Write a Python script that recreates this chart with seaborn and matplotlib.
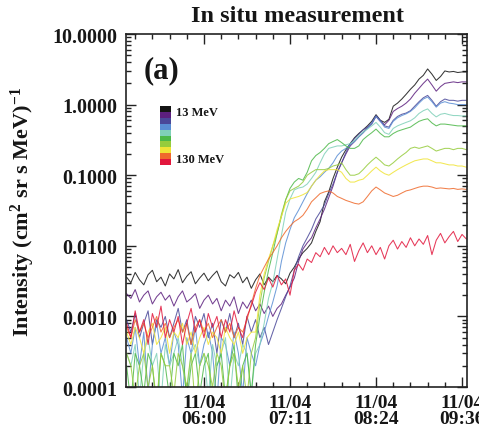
import numpy as np
import pandas as pd
import matplotlib
matplotlib.use("Agg")
import matplotlib.pyplot as plt
from matplotlib.patches import Rectangle
from matplotlib.ticker import FixedLocator, MultipleLocator, LogLocator, FuncFormatter, NullFormatter
import seaborn as sns

# ---------------- data ----------------
time_hr = np.round(np.arange(5.10, 9.051, 0.05), 2)   # 80 samples, tick 6,7,8,9 -> labels below

tick_pos = [6, 7, 8, 9]
tick_labels = ["11/04\n06:00", "11/04\n07:11", "11/04\n08:24", "11/04\n09:36"]

channels = ["13 MeV", "ch2", "ch3", "ch4", "ch5", "ch6", "ch7", "ch8", "ch9", "130 MeV"]
colors = ["#141414", "#5c1f7e", "#4a4899", "#5a8ed4", "#7fd0b8",
          "#4cb848", "#96cc3c", "#f0e436", "#ef6a2c", "#e2163c"]

ch1 = [0.0036, 0.0030, 0.0042, 0.0033, 0.0028, 0.0039, 0.0045, 0.0031, 0.0036, 0.0027,
       0.0040, 0.0034, 0.0046, 0.0030, 0.0037, 0.0043, 0.0029, 0.0035, 0.0041, 0.0032,
       0.0038, 0.0044, 0.0031, 0.0027, 0.0039, 0.0035, 0.0042, 0.0030, 0.0036, 0.0025,
       0.0033, 0.0040, 0.0028, 0.0036, 0.0031, 0.0038, 0.0034, 0.0029, 0.0041, 0.0050,
       0.0065, 0.0080, 0.0092, 0.0110, 0.0160, 0.0220, 0.0420, 0.0580, 0.0900, 0.1300,
       0.1800, 0.2300, 0.2800, 0.3400, 0.3900, 0.4400, 0.5000, 0.5800, 0.7200, 0.6000,
       0.5600, 0.6200, 0.9500, 1.0500, 1.2000, 1.4000, 1.6500, 1.9000, 2.3000, 2.6000,
       3.2000, 2.7000, 2.2000, 2.5000, 3.0000, 2.9000, 2.9500, 2.8500, 2.9000, 2.9000]
ch2 = [0.0021, 0.0018, 0.0024, 0.0016, 0.0020, 0.0023, 0.0015, 0.0019, 0.0022, 0.0017,
       0.0020, 0.0014, 0.0019, 0.0023, 0.0016, 0.0018, 0.0021, 0.0013, 0.0017, 0.0020,
       0.0015, 0.0018, 0.0012, 0.0017, 0.0014, 0.0019, 0.0011, 0.0016, 0.0013, 0.0017,
       0.0012, 0.0015, 0.0011, 0.0014, 0.0010, 0.0013, 0.0015, 0.0020, 0.0026, 0.0035,
       0.0060, 0.0090, 0.0110, 0.0130, 0.0180, 0.0240, 0.0330, 0.0480, 0.0700, 0.1100,
       0.1500, 0.2000, 0.2600, 0.3000, 0.3500, 0.4000, 0.4700, 0.5300, 0.6800, 0.5800,
       0.5200, 0.6000, 0.8000, 0.8800, 0.9500, 1.0500, 1.2000, 1.4500, 1.7000, 2.0000,
       2.3000, 1.9000, 1.5500, 1.8000, 2.0000, 2.0500, 2.1000, 2.0500, 2.1000, 2.1000]
ch3 = [0.0009, 0.0006, 0.0011, 0.0005, 0.0008, 0.0012, 0.0004, 0.0009, 0.0007, 0.0010,
       0.0005, 0.0008, 0.0013, 0.0006, 0.0009, 0.0004, 0.0010, 0.0007, 0.0011, 0.0005,
       0.0008, 0.0003, 0.0009, 0.0006, 0.0011, 0.0005, 0.0008, 0.0004, 0.0010, 0.0006,
       0.0009, 0.0005, 0.0007, 0.0004, 0.0006, 0.0009, 0.0013, 0.0019, 0.0027, 0.0045,
       0.0070, 0.0100, 0.0130, 0.0170, 0.0240, 0.0300, 0.0380, 0.0550, 0.0750, 0.1100,
       0.1500, 0.2100, 0.2800, 0.3300, 0.3800, 0.4400, 0.4800, 0.5500, 0.7000, 0.6000,
       0.5000, 0.4800, 0.6000, 0.6800, 0.7300, 0.7600, 0.8200, 0.9500, 1.1000, 1.2500,
       1.3500, 1.1500, 0.9500, 1.1000, 1.2000, 1.1500, 1.1500, 1.1200, 1.1500, 1.1500]
ch4 = [0.0005, 0.0003, 0.0007, 0.0002, 0.0006, 0.00008, 0.0004, 0.0008, 0.0003, 0.0005,
       0.0002, 0.0006, 0.0004, 0.00007, 0.0005, 0.0003, 0.0007, 0.0002, 0.0004, 0.0006,
       0.0003, 0.00006, 0.0005, 0.0004, 0.0002, 0.0006, 0.0003, 0.00008, 0.0005, 0.0003,
       0.0002, 0.0004, 0.0006, 0.0010, 0.0016, 0.0027, 0.0060, 0.0110, 0.0170, 0.0250,
       0.0320, 0.0420, 0.0550, 0.0700, 0.0850, 0.0950, 0.1100, 0.1250, 0.1500, 0.1900,
       0.2200, 0.2400, 0.2700, 0.3000, 0.3500, 0.4000, 0.4600, 0.5400, 0.6800, 0.5800,
       0.4800, 0.4600, 0.5800, 0.6500, 0.7000, 0.7400, 0.8000, 0.9000, 1.0500, 1.2000,
       1.2800, 1.1000, 0.9200, 1.0500, 1.1000, 1.0500, 1.0300, 1.0000, 1.0000, 1.0000]
ch5 = [0.0003, 0.0002, 0.0004, 0.00007, 0.0003, 0.0005, 0.0002, 0.0003, 0.00006, 0.0004,
       0.0002, 0.0003, 0.0005, 0.0002, 0.00008, 0.0003, 0.0004, 0.0002, 0.0003, 0.00007,
       0.0004, 0.0002, 0.0003, 0.0005, 0.00006, 0.0003, 0.0002, 0.0004, 0.0003, 0.00008,
       0.0003, 0.0004, 0.0008, 0.0018, 0.0030, 0.0065, 0.0140, 0.0300, 0.0460, 0.0620,
       0.0660, 0.0680, 0.0750, 0.0900, 0.1100, 0.1500, 0.2000, 0.2400, 0.2500, 0.2600,
       0.2600, 0.2700, 0.2800, 0.3100, 0.3600, 0.4100, 0.4500, 0.5000, 0.5600, 0.4800,
       0.4000, 0.3800, 0.4600, 0.5000, 0.5300, 0.5600, 0.5900, 0.6500, 0.7500, 0.8200,
       0.8700, 0.7500, 0.6700, 0.7300, 0.7500, 0.7200, 0.7000, 0.7000, 0.6900, 0.6900]
ch6 = [0.0002, 0.00006, 0.0003, 0.0002, 0.00008, 0.0003, 0.0002, 0.00005, 0.0003, 0.0002,
       0.00007, 0.0003, 0.0002, 0.0004, 0.00006, 0.0002, 0.0003, 0.00008, 0.0002, 0.0003,
       0.00005, 0.0002, 0.0003, 0.00007, 0.0002, 0.0004, 0.00006, 0.0002, 0.0003, 0.00008,
       0.0004, 0.0010, 0.0022, 0.0045, 0.0080, 0.0150, 0.0260, 0.0450, 0.0650, 0.0800,
       0.0900, 0.0850, 0.1100, 0.1600, 0.1900, 0.2100, 0.2400, 0.2800, 0.3000, 0.3200,
       0.2900, 0.2600, 0.2400, 0.2400, 0.2600, 0.3200, 0.3600, 0.4000, 0.4500, 0.3900,
       0.3500, 0.3500, 0.3900, 0.4200, 0.4400, 0.4600, 0.4800, 0.5300, 0.5800, 0.6100,
       0.6300, 0.5500, 0.5000, 0.5300, 0.5300, 0.5200, 0.5100, 0.5000, 0.5000, 0.5000]
ch7 = [0.0003, 0.0002, 0.00007, 0.0002, 0.0003, 0.0001, 0.0002, 0.00006, 0.0003, 0.0002,
       0.0002, 0.00008, 0.0003, 0.0002, 0.0001, 0.0003, 0.00005, 0.0002, 0.0003, 0.0002,
       0.0001, 0.0003, 0.0002, 0.00006, 0.0002, 0.0003, 0.0001, 0.0002, 0.00007, 0.0003,
       0.0005, 0.0015, 0.0035, 0.0060, 0.0100, 0.0150, 0.0280, 0.0450, 0.0600, 0.0650,
       0.0700, 0.0800, 0.1000, 0.1100, 0.1200, 0.1200, 0.1200, 0.1250, 0.1350, 0.1400,
       0.1500, 0.1200, 0.1000, 0.1000, 0.1050, 0.1200, 0.1400, 0.1600, 0.1800, 0.1600,
       0.1400, 0.1350, 0.1500, 0.1700, 0.1900, 0.2100, 0.2400, 0.2500, 0.2400, 0.2500,
       0.2600, 0.2400, 0.2200, 0.2300, 0.2400, 0.2400, 0.2300, 0.2400, 0.2400, 0.2300]
ch8 = [0.0006, 0.0004, 0.0007, 0.0005, 0.0003, 0.0006, 0.0008, 0.0004, 0.0005, 0.0007,
       0.0003, 0.0006, 0.0005, 0.0008, 0.0004, 0.0006, 0.0003, 0.0005, 0.0007, 0.0004,
       0.0006, 0.0005, 0.0003, 0.0007, 0.0005, 0.0004, 0.0006, 0.0003, 0.0005, 0.0006,
       0.0006, 0.0020, 0.0040, 0.0065, 0.0100, 0.0170, 0.0260, 0.0400, 0.0460, 0.0480,
       0.0500, 0.0530, 0.0570, 0.0700, 0.0850, 0.1000, 0.1150, 0.1200, 0.1200, 0.1200,
       0.1100, 0.0900, 0.0800, 0.0800, 0.0850, 0.0880, 0.1000, 0.1150, 0.1300, 0.1150,
       0.1050, 0.1000, 0.1100, 0.1200, 0.1300, 0.1400, 0.1500, 0.1600, 0.1650, 0.1700,
       0.1700, 0.1600, 0.1500, 0.1500, 0.1450, 0.1400, 0.1400, 0.1350, 0.1350, 0.1300]
ch9 = [0.0007, 0.0005, 0.0009, 0.0006, 0.0008, 0.0005, 0.0007, 0.0010, 0.0006, 0.0008,
       0.0005, 0.0007, 0.0009, 0.0006, 0.0008, 0.0004, 0.0007, 0.0009, 0.0006, 0.0008,
       0.0005, 0.0007, 0.0009, 0.0006, 0.0008, 0.0005, 0.0007, 0.0006, 0.0009, 0.0015,
       0.0025, 0.0038, 0.0050, 0.0065, 0.0080, 0.0100, 0.0130, 0.0160, 0.0190, 0.0220,
       0.0240, 0.0270, 0.0330, 0.0420, 0.0480, 0.0550, 0.0580, 0.0600, 0.0560, 0.0500,
       0.0470, 0.0440, 0.0420, 0.0400, 0.0390, 0.0420, 0.0500, 0.0600, 0.0680, 0.0620,
       0.0560, 0.0530, 0.0500, 0.0520, 0.0560, 0.0600, 0.0620, 0.0650, 0.0680, 0.0700,
       0.0700, 0.0680, 0.0650, 0.0660, 0.0650, 0.0640, 0.0650, 0.0630, 0.0640, 0.0630]
ch10 = [0.0008, 0.0005, 0.0012, 0.0006, 0.0009, 0.0004, 0.0011, 0.0007, 0.0014, 0.0005,
        0.0009, 0.0006, 0.0010, 0.0004, 0.0008, 0.0013, 0.0006, 0.0009, 0.0005, 0.0011,
        0.0007, 0.0010, 0.0005, 0.0009, 0.0006, 0.0012, 0.0007, 0.0005, 0.0010, 0.0014,
        0.0022, 0.0030, 0.0024, 0.0035, 0.0026, 0.0038, 0.0028, 0.0034, 0.0020, 0.0045,
        0.0055, 0.0045, 0.0065, 0.0058, 0.0080, 0.0070, 0.0095, 0.0075, 0.0100, 0.0080,
        0.0092, 0.0075, 0.0105, 0.0060, 0.0085, 0.0110, 0.0080, 0.0100, 0.0075, 0.0095,
        0.0065, 0.0100, 0.0120, 0.0090, 0.0115, 0.0095, 0.0130, 0.0100, 0.0125, 0.0105,
        0.0140, 0.0075, 0.0120, 0.0150, 0.0110, 0.0135, 0.0160, 0.0115, 0.0145, 0.0125]

series = [ch1, ch2, ch3, ch4, ch5, ch6, ch7, ch8, ch9, ch10]

y_ticks = [0.0001, 0.001, 0.01, 0.1, 1, 10]

# ---------------- figure ----------------
sns.set_theme(style="ticks")
plt.rcParams["font.family"] = ["Liberation Serif", "DejaVu Serif"]
plt.rcParams["font.weight"] = "bold"
plt.rcParams["mathtext.fontset"] = "custom"
plt.rcParams["mathtext.rm"] = "Liberation Serif:bold"
plt.rcParams["mathtext.bf"] = "Liberation Serif:bold"
plt.rcParams["mathtext.it"] = "Liberation Serif:bold"

TXT = "#161616"

frames = []
for name, vals in zip(channels, series):
    frames.append(pd.DataFrame({"time": time_hr, "flux": vals, "channel": name}))
df = pd.concat(frames, ignore_index=True)

fig = plt.figure(figsize=(4.79, 4.35), dpi=100)
ax = fig.add_axes([0.263, 0.108, 0.712, 0.8115])

sns.lineplot(data=df, x="time", y="flux", hue="channel", hue_order=channels,
             palette=colors, linewidth=0.75, alpha=0.85, legend=False, ax=ax,
             estimator=None, sort=False)

ax.set_yscale("log")
ax.set_ylim(1e-4, 10)
ax.set_xlim(5.093, 9.058)

ax.yaxis.set_major_locator(FixedLocator(y_ticks))
ax.yaxis.set_major_formatter(FuncFormatter(lambda v, p: f"{v:.4f}"))
ax.yaxis.set_minor_locator(LogLocator(base=10, subs=np.arange(2, 10), numticks=20))
ax.yaxis.set_minor_formatter(NullFormatter())

ax.xaxis.set_major_locator(FixedLocator(tick_pos))
ax.set_xticklabels(tick_labels)
ax.xaxis.set_minor_locator(MultipleLocator(0.2))

ax.tick_params(axis="both", which="both", direction="in", top=True, right=True,
               color="#222222", width=1.0)
ax.tick_params(axis="both", which="major", length=7, labelcolor=TXT)
ax.tick_params(axis="y", which="major", pad=6, labelsize=14.5)
ax.tick_params(axis="x", which="major", pad=5, labelsize=14)
ax.tick_params(axis="both", which="minor", length=3.5)
for lbl in ax.get_xticklabels():
    lbl.set_linespacing(0.95)
    lbl.set_fontweight("bold")
for lbl in ax.get_yticklabels():
    lbl.set_fontweight("bold")

for sp in ax.spines.values():
    sp.set_color("#222222")
    sp.set_linewidth(1.2)

ax.set_xlabel("")
ax.set_ylabel(r"Intensity (cm$^2$ sr s MeV)$^{-1}$", fontsize=16, fontweight="bold", color=TXT)
ax.yaxis.set_label_coords(-0.262, 0.5)

fig.text(0.622, 0.961, "In situ measurement", ha="center", va="center",
         fontsize=17.5, fontweight="bold", color=TXT)

ax.text(0.052, 0.90, "(a)", transform=ax.transAxes, ha="left", va="center",
        fontsize=22, fontweight="bold", color=TXT)

# energy colour key
x0, x1 = 0.100, 0.132
top, bot = 0.796, 0.629
h = (top - bot) / len(colors)
for k, c in enumerate(colors):
    ax.add_patch(Rectangle((x0, top - (k + 1) * h), x1 - x0, h, transform=ax.transAxes,
                           facecolor=c, edgecolor="none", zorder=5))
ax.text(0.147, 0.779, "13 MeV", transform=ax.transAxes, ha="left", va="center",
        fontsize=9, fontweight="bold", color=TXT)
ax.text(0.147, 0.647, "130 MeV", transform=ax.transAxes, ha="left", va="center",
        fontsize=9, fontweight="bold", color=TXT)

fig.savefig("out.png", dpi=100)
